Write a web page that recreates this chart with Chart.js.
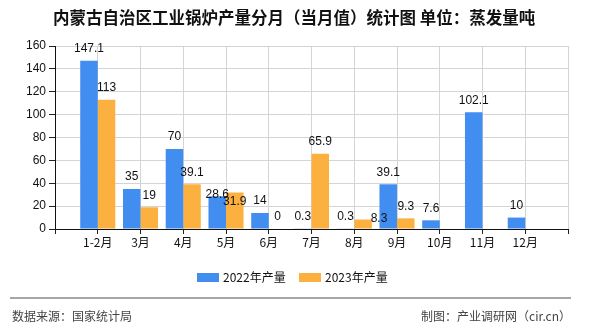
<!DOCTYPE html>
<html>
<head>
<meta charset="utf-8">
<script src="https://cdn.jsdelivr.net/npm/chart.js@4/dist/chart.umd.min.js"></script>
<style>
  html, body { margin: 0; padding: 0; background: #fff; }
  #wrap { position: relative; width: 590px; height: 330px; }
</style>
</head>
<body>
<div id="wrap"><canvas id="chart" width="590" height="330"></canvas></div>
<script>
const months = ["", "1-2月", "3月", "4月", "5月", "6月", "7月", "8月", "9月", "10月", "11月", "12月", ""];
const output2022 = [null, 147.1, 35, 70, 28.6, 14, 0.3, 0.3, 39.1, 7.6, 102.1, 10, null];
const output2023 = [null, 113, 19, 39.1, 31.9, 0, 65.9, 8.3, 9.3, null, null, null, null];
const yTicks = [0, 20, 40, 60, 80, 100, 120, 140, 160];

const titleText = "内蒙古自治区工业锅炉产量分月（当月值）统计图 单位：蒸发量吨";
const sourceText = "数据来源：国家统计局";
const makerText = "制图：产业调研网（cir.cn）";

const cjk = "'Noto Sans CJK SC', 'Noto Sans', sans-serif";

// labels that the original chart shifted to dodge neighbours
const labelNudge = { "0:4": [0, 10], "1:4": [0, 21], "1:7": [16, 11] };

const valueLabels = {
  id: "valueLabels",
  afterDatasetsDraw(chart) {
    const ctx = chart.ctx;
    ctx.save();
    ctx.font = "12px 'Liberation Sans', sans-serif";
    ctx.fillStyle = "#111";
    ctx.textAlign = "center";
    ctx.textBaseline = "middle";
    chart.data.datasets.forEach((ds, di) => {
      chart.getDatasetMeta(di).data.forEach((bar, i) => {
        const v = ds.data[i];
        if (v === null || v === undefined) {
          return;
        }
        const nudge = labelNudge[di + ":" + i] || [0, 0];
        ctx.fillText(String(v), bar.x + nudge[0], bar.y - 12 + nudge[1]);
      });
    });
    ctx.restore();
  }
};

const frame = {
  id: "frame",
  afterDraw(chart) {
    const ctx = chart.ctx;
    ctx.save();
    ctx.fillStyle = "#111";
    ctx.font = "bold 16.5px " + cjk;
    ctx.textAlign = "left";
    ctx.textBaseline = "middle";
    ctx.fillText(titleText, 53, 18);

    // legend
    ctx.font = "12px " + cjk;
    let x = 197;
    chart.data.datasets.forEach((ds) => {
      ctx.fillStyle = ds.backgroundColor;
      ctx.fillRect(x, 273, 22, 9);
      ctx.fillStyle = "#111";
      ctx.fillText(ds.label, x + 26, 277.5);
      x += 102;
    });

    // footer
    ctx.strokeStyle = "#888";
    ctx.lineWidth = 1.5;
    ctx.beginPath();
    ctx.moveTo(10, 298);
    ctx.lineTo(571, 298);
    ctx.stroke();
    ctx.fillStyle = "#444";
    ctx.font = "12px " + cjk;
    ctx.fillText(sourceText, 12, 316);
    ctx.textAlign = "right";
    ctx.fillText(makerText, 571, 316);
    ctx.restore();
  }
};

new Chart(document.getElementById("chart"), {
  type: "bar",
  data: {
    labels: months,
    datasets: [
      { label: "2022年产量", data: output2022, backgroundColor: "#418ef0" },
      { label: "2023年产量", data: output2023, backgroundColor: "#fbb03f" }
    ]
  },
  options: {
    responsive: false,
    animation: false,
    events: [],
    layout: { padding: { left: 0, right: 22, top: 46, bottom: 81 } },
    datasets: { bar: { categoryPercentage: 0.82, barPercentage: 1 } },
    plugins: { legend: { display: false }, title: { display: false }, tooltip: { enabled: false } },
    scales: {
      x: {
        offset: false,
        grid: { offset: false, color: "#d4d4d4", tickColor: "#222", tickLength: 5 },
        border: { color: "#111", width: 1 },
        ticks: { color: "#111", font: { size: 12, family: cjk }, padding: 1, autoSkip: false, maxRotation: 0 },
        afterFit(scale) { scale.height = 20; }
      },
      y: {
        min: 0,
        max: 160,
        afterBuildTicks(scale) { scale.ticks = yTicks.map((v) => ({ value: v })); },
        grid: { color: "#d4d4d4", tickColor: "#222", tickLength: 6 },
        border: { color: "#111", width: 1 },
        ticks: { color: "#111", font: { size: 12, family: "'Liberation Sans', sans-serif" }, padding: 3 },
        afterFit(scale) { scale.width = 55; }
      }
    }
  },
  plugins: [valueLabels, frame]
});
</script>
</body>
</html>
